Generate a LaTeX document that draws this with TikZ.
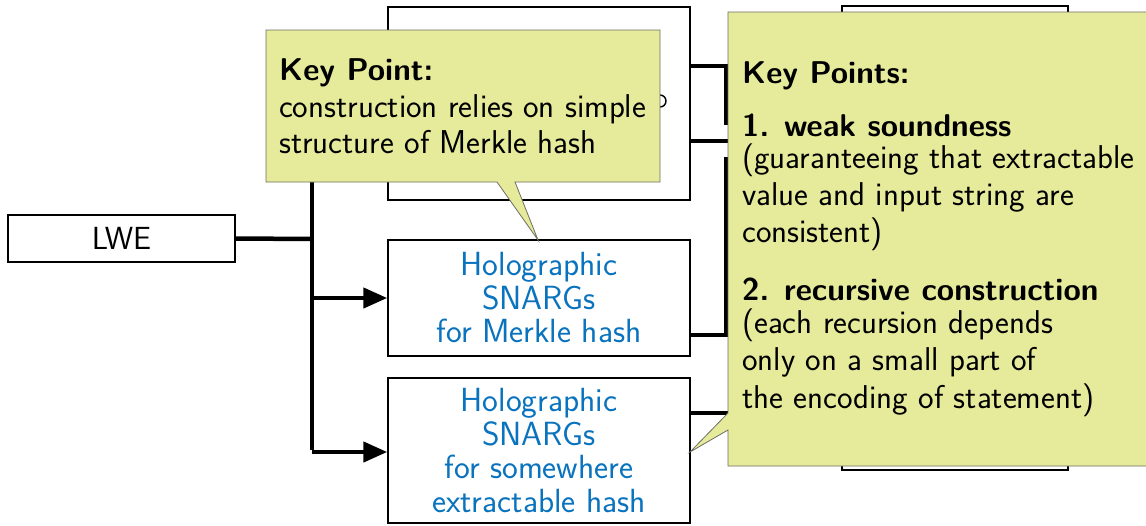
\documentclass[tikz,border=0pt]{standalone}
\usetikzlibrary{arrows.meta}
\definecolor{calloutfill}{RGB}{230,234,155}
\definecolor{calloutline}{RGB}{110,110,100}
\definecolor{bluetext}{RGB}{10,115,190}
\begin{document}
\begin{tikzpicture}[x=1pt,y=-1pt,
  box/.style={draw=black,line width=1.5pt,inner sep=0pt,font=\sffamily\fontsize{33.5}{33.5}\selectfont,align=center},
  conn/.style={draw=black,line width=4.5pt},
  arr/.style={conn,-{Triangle[length=24pt,width=20pt]}},
  callout/.style={fill=calloutfill,draw=calloutline,line width=0.8pt},
  ctext/.style={anchor=base west,inner sep=0pt,font=\sffamily\fontsize{33}{36}\selectfont},
  cbold/.style={ctext,font=\sffamily\bfseries\fontsize{31.5}{36}\selectfont},
  btext/.style={text=bluetext}]
\clip (0,0) rectangle (1146,525);
\fill[white] (0,0) rectangle (1146,525);
% boxes
\node[box,minimum width=227pt,minimum height=47pt,font=\sffamily\fontsize{32}{36}\selectfont] (lwe) at (121.5,238.5) {LWE};
\node[box,minimum width=302pt,minimum height=193pt] (b1) at (539,103.5) {};
\node[box,minimum width=302pt,minimum height=116pt,btext] (b2) at (539,298) {Holographic\\SNARGs\\for Merkle hash};
\node[box,minimum width=302pt,minimum height=145pt,btext] (b3) at (539,450.5) {Holographic\\SNARGs\\for somewhere\\extractable hash};
\node[box,minimum width=226pt,minimum height=464pt] (b4) at (955,238) {};
% trunk
\coordinate (j) at (312,239);
\coordinate (ttop) at (312,140);
\coordinate (t2) at (312,298);
\coordinate (t3) at (312,452);
\draw[conn] (lwe.east) -- (j);
\draw[conn] (ttop) -- ([yshift=2.25pt]t3);
\draw[arr] (t2) -- (b2.west);
\draw[arr] (t3) -- (b3.west |- t3);
% right side connectors
\coordinate (r1) at (726,66);
\coordinate (r1b) at (726,125);
\coordinate (r2) at (732,141);
\coordinate (r3a) at (726,157);
\coordinate (r3) at (726,335);
\coordinate (r4) at (732,413);
\draw[conn] (b1.east |- r1) -- (r1) -- (r1b);
\draw[conn] (b1.east |- r2) -- (r2);
\draw[conn] (r3a) -- (r3) -- (b2.east |- r3);
\draw[conn] (b3.east |- r4) -- (r4);
% fragment of hidden text in top box
\draw[line width=1.4pt] (660,107) arc (90:-90:6);
% left callout
\coordinate (tip1) at (538,240);
\draw[callout] (266,30) -- (660,30) -- (660,182) -- (515,182) -- (tip1) -- (497,182) -- (266,182) -- cycle;
\node[cbold] (k1) at (279,80) {Key Point:};
\node[ctext] (k2) at (279,117) {construction relies on simple};
\node[ctext] (k3) at (279,153) {structure of Merkle hash};
% right callout
\coordinate (tip2) at (690,452);
\draw[callout] (728,12) -- (1160,12) -- (1160,466) -- (728,466) -- (728,430) -- (tip2) -- (728,413) -- cycle;
\node[cbold] (p0) at (742,83) {Key Points:};
\node[cbold] (p1) at (742,136) {1.\hspace{15pt}weak soundness};
\node[ctext] (p2) at (742,168) {(guaranteeing that extractable};
\node[ctext] (p3) at (742,205) {value and input string are};
\node[ctext] (p4) at (742,242) {consistent)};
\node[cbold] (p5) at (742,300) {2.\hspace{15pt}recursive construction};
\node[ctext] (p6) at (742,333) {(each recursion depends};
\node[ctext] (p7) at (742,370) {only on a small part of};
\node[ctext] (p8) at (742,408) {the encoding of statement)};
\end{tikzpicture}
\end{document}
